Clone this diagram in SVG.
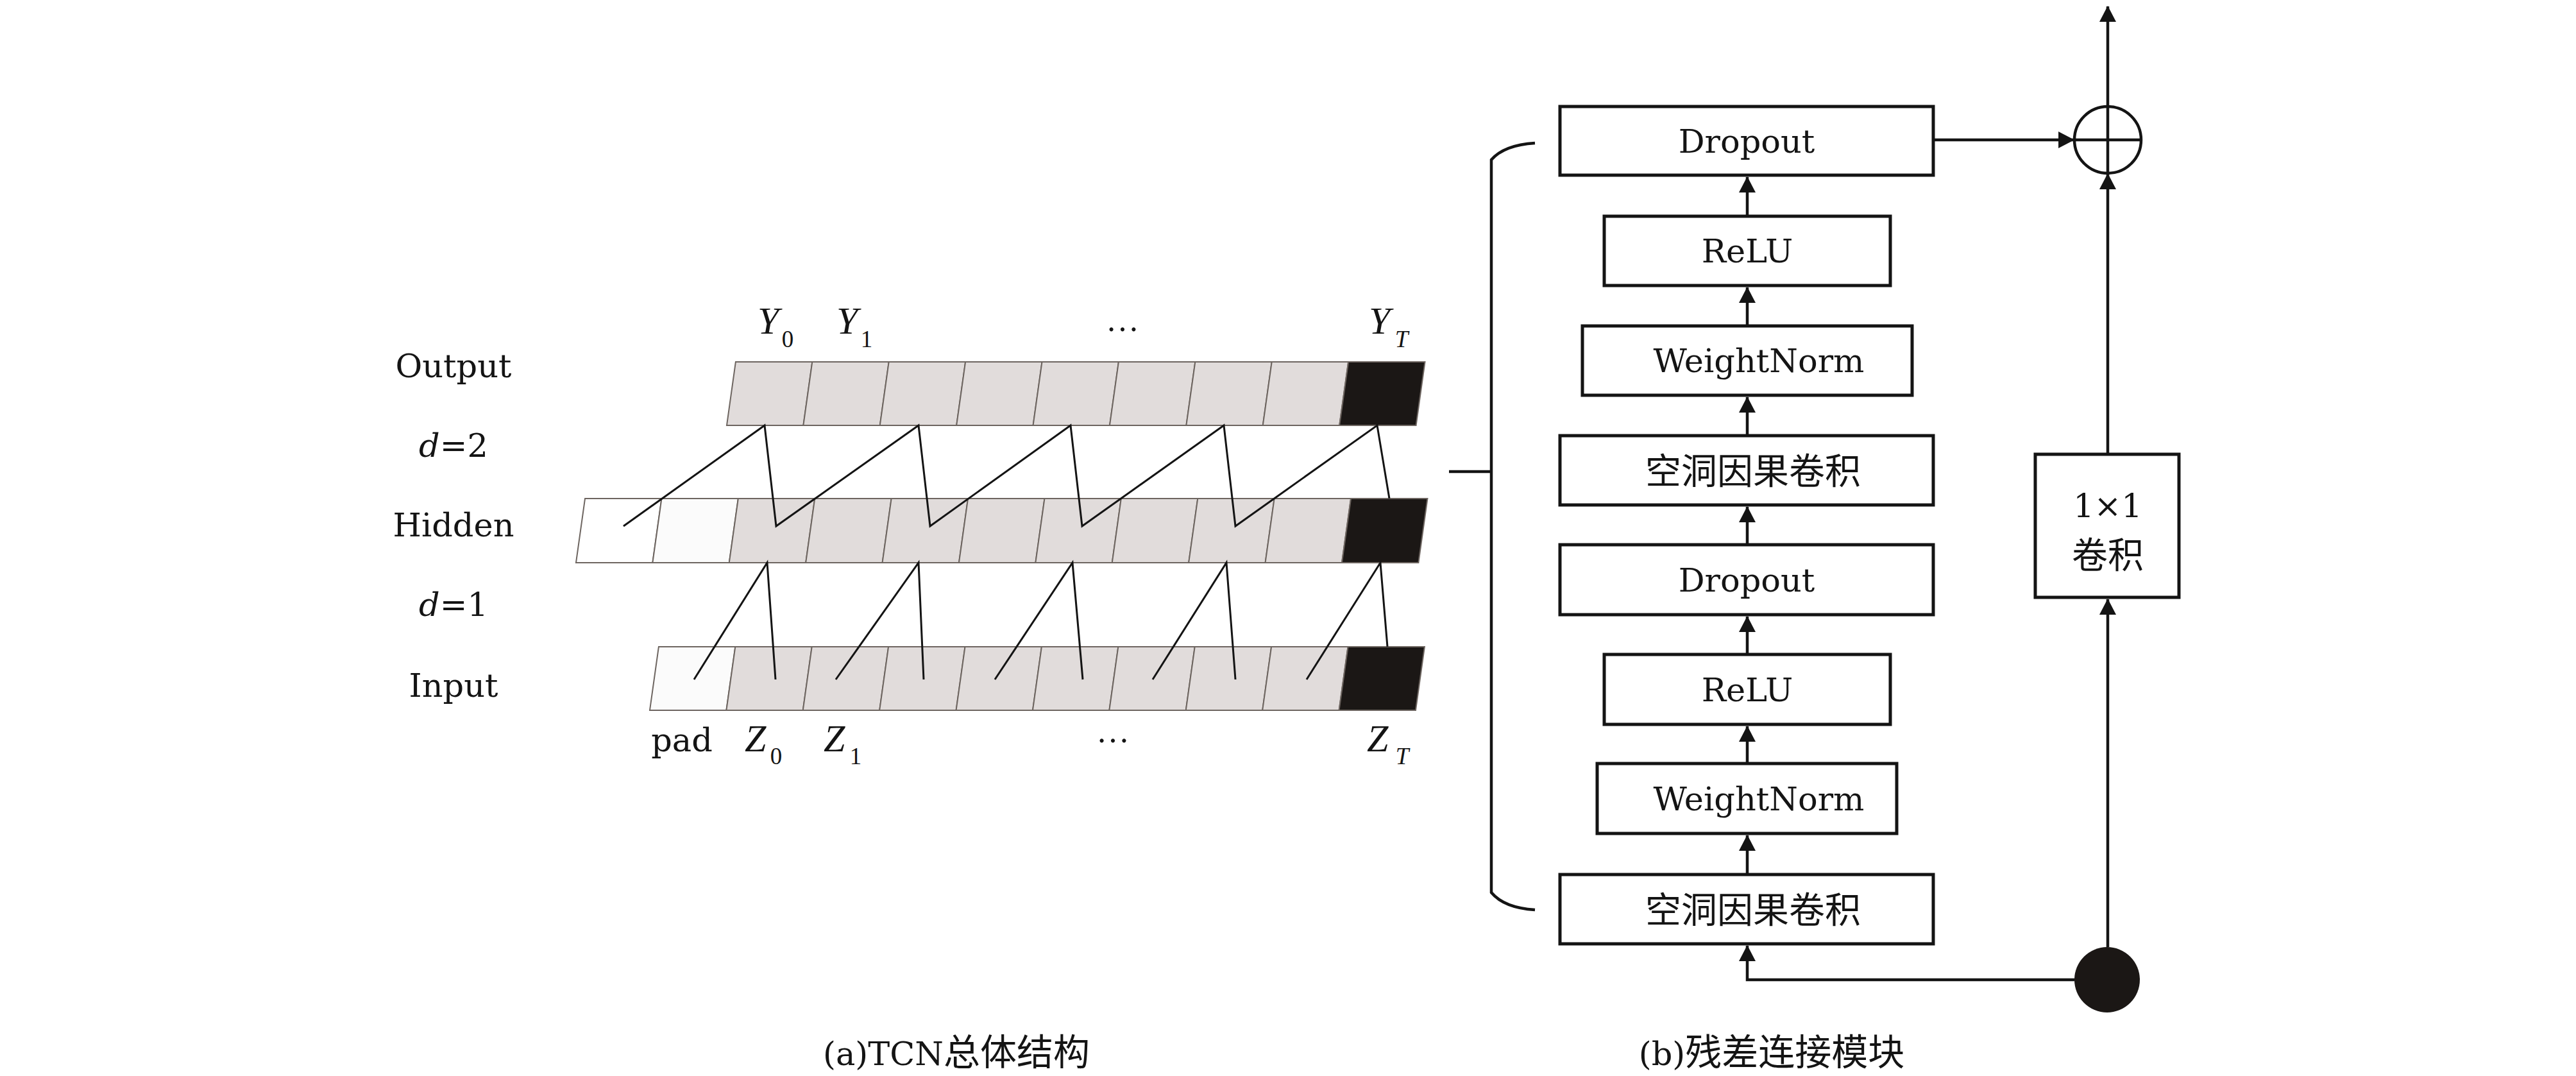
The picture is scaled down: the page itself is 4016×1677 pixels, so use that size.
<svg xmlns="http://www.w3.org/2000/svg" width="4016" height="1677" viewBox="0 0 4016 1677">
<defs>
<style>
.lbl{font-family:"DejaVu Serif","Liberation Serif",serif;font-size:51px;fill:#141414;text-anchor:middle}
.it{font-style:italic}
.var{font-family:"Liberation Serif",serif;font-style:italic;font-size:60px;fill:#141414}
.sub{font-family:"Liberation Serif",serif;font-size:37px;fill:#141414;text-anchor:middle}
.cjk{font-family:"Noto Sans CJK SC","Noto Sans CJK TC",sans-serif;font-size:56px;fill:#141414;text-anchor:middle}
.cell{stroke:#6d6560;stroke-width:2}
.g{fill:#e1dcdb}
.w{fill:#ffffff}
.w2{fill:#fbfbfb}
.k{fill:#1b1715}
.box{fill:#fff;stroke:#141414;stroke-width:5}
.ln{fill:none;stroke:#141414;stroke-width:3;stroke-linejoin:miter}
.ar{fill:none;stroke:#141414;stroke-width:4.5}
</style>
<marker id="ah" markerUnits="userSpaceOnUse" markerWidth="26" markerHeight="26" viewBox="0 0 24 25" refX="23" refY="12.5" orient="auto">
<path d="M0,0 L24,12.5 L0,25 Z" fill="#141414"/>
</marker>
</defs>
<rect x="0" y="0" width="4016" height="1677" fill="#fff"/>

<!-- (a) TCN -->
<g id="tcn-labels">
<text class="lbl" x="707" y="588">Output</text>
<text class="lbl" x="707" y="712"><tspan class="it">d</tspan>=2</text>
<text class="lbl" x="707" y="836">Hidden</text>
<text class="lbl" x="707" y="960"><tspan class="it">d</tspan>=1</text>
<text class="lbl" x="707" y="1086">Input</text>
</g>

<g id="row-output" transform="translate(1133,663) skewX(-8)">
<rect class="cell g" x="0" y="-99" width="119.4" height="99"/>
<rect class="cell g" x="119.4" y="-99" width="119.4" height="99"/>
<rect class="cell g" x="238.8" y="-99" width="119.4" height="99"/>
<rect class="cell g" x="358.2" y="-99" width="119.4" height="99"/>
<rect class="cell g" x="477.6" y="-99" width="119.4" height="99"/>
<rect class="cell g" x="597" y="-99" width="119.4" height="99"/>
<rect class="cell g" x="716.4" y="-99" width="119.4" height="99"/>
<rect class="cell g" x="835.8" y="-99" width="119.4" height="99"/>
<rect class="cell k" x="955.2" y="-99" width="119.4" height="99"/>
</g>

<g id="row-hidden" transform="translate(898,877) skewX(-8)">
<rect class="cell w" x="0" y="-100" width="119.4" height="100"/>
<rect class="cell w2" x="119.4" y="-100" width="119.4" height="100"/>
<rect class="cell g" x="238.8" y="-100" width="119.4" height="100"/>
<rect class="cell g" x="358.2" y="-100" width="119.4" height="100"/>
<rect class="cell g" x="477.6" y="-100" width="119.4" height="100"/>
<rect class="cell g" x="597" y="-100" width="119.4" height="100"/>
<rect class="cell g" x="716.4" y="-100" width="119.4" height="100"/>
<rect class="cell g" x="835.8" y="-100" width="119.4" height="100"/>
<rect class="cell g" x="955.2" y="-100" width="119.4" height="100"/>
<rect class="cell g" x="1074.6" y="-100" width="119.4" height="100"/>
<rect class="cell k" x="1194" y="-100" width="119.4" height="100"/>
</g>

<g id="row-input" transform="translate(1013,1107) skewX(-8)">
<rect class="cell w2" x="0" y="-99" width="119.4" height="99"/>
<rect class="cell g" x="119.4" y="-99" width="119.4" height="99"/>
<rect class="cell g" x="238.8" y="-99" width="119.4" height="99"/>
<rect class="cell g" x="358.2" y="-99" width="119.4" height="99"/>
<rect class="cell g" x="477.6" y="-99" width="119.4" height="99"/>
<rect class="cell g" x="597" y="-99" width="119.4" height="99"/>
<rect class="cell g" x="716.4" y="-99" width="119.4" height="99"/>
<rect class="cell g" x="835.8" y="-99" width="119.4" height="99"/>
<rect class="cell g" x="955.2" y="-99" width="119.4" height="99"/>
<rect class="cell k" x="1074.6" y="-99" width="119.4" height="99"/>
</g>

<g id="tcn-connectors">
<polyline class="ln" points="972,820 1192,663 1210,820 1432,663 1450,820 1669,663 1687,820 1908,663 1926,820 2147,663 2166,777"/>
<polyline class="ln" points="1082,1059 1196,877 1209,1059"/>
<polyline class="ln" points="1303,1059 1432,877 1440,1059"/>
<polyline class="ln" points="1551,1059 1672,877 1688,1059"/>
<polyline class="ln" points="1797,1059 1912,877 1926,1059"/>
<polyline class="ln" points="2037,1059 2152,877 2163,1008"/>
</g>

<g id="tcn-output-names">
<text class="var" x="1181" y="520">Y</text><text class="sub" x="1228" y="541">0</text>
<text class="var" x="1304" y="520">Y</text><text class="sub" x="1351" y="541">1</text>
<text class="lbl" x="1750" y="516" style="font-family:'Liberation Serif',serif;font-size:52px">…</text>
<text class="var" x="2134" y="520">Y</text><text class="sub" x="2185" y="541" font-style="italic">T</text>
</g>

<g id="tcn-input-names">
<text class="lbl" x="1063" y="1171">pad</text>
<text class="var" x="1161" y="1171">Z</text><text class="sub" x="1210" y="1191">0</text>
<text class="var" x="1284" y="1171">Z</text><text class="sub" x="1334" y="1191">1</text>
<text class="lbl" x="1735" y="1157" style="font-family:'Liberation Serif',serif;font-size:52px">…</text>
<text class="var" x="2131" y="1171">Z</text><text class="sub" x="2186" y="1191" font-style="italic">T</text>
</g>

<text id="caption-a" class="lbl" x="1491" y="1660">(a)TCN<tspan style="font-family:'Noto Sans CJK SC',sans-serif;font-size:57px">总体结构</tspan></text>

<!-- (b) residual block -->
<g id="bracket">
<path class="ar" d="M2393,223 Q2345,226 2325,249 V1391 Q2345,1415 2393,1418"/>
<line class="ar" x1="2259" y1="735" x2="2325" y2="735"/>
</g>

<g id="n-dropout1"><rect class="box" x="2432" y="166" width="582" height="107"/><text class="lbl" x="2723" y="238">Dropout</text></g>
<g id="n-relu1"><rect class="box" x="2501" y="337" width="446" height="108"/><text class="lbl" x="2724" y="409">ReLU</text></g>
<g id="n-weightnorm1"><rect class="box" x="2467" y="508" width="514" height="108"/><text class="lbl" x="2742" y="580">WeightNorm</text></g>
<g id="n-conv1"><rect class="box" x="2432" y="679" width="582" height="108"/><text class="cjk" x="2733" y="754">空洞因果卷积</text></g>
<g id="n-dropout2"><rect class="box" x="2432" y="849" width="582" height="109"/><text class="lbl" x="2723" y="922">Dropout</text></g>
<g id="n-relu2"><rect class="box" x="2501" y="1020" width="446" height="109"/><text class="lbl" x="2724" y="1093">ReLU</text></g>
<g id="n-weightnorm2"><rect class="box" x="2490" y="1190" width="467" height="109"/><text class="lbl" x="2742" y="1263">WeightNorm</text></g>
<g id="n-conv2"><rect class="box" x="2432" y="1363" width="582" height="108"/><text class="cjk" x="2733" y="1438">空洞因果卷积</text></g>

<g id="n-conv1x1"><rect class="box" x="3173" y="708" width="224" height="223"/>
<text class="lbl" x="3286" y="806">1×1</text>
<text class="cjk" x="3286" y="885">卷积</text></g>

<g id="n-add">
<circle cx="3286" cy="218" r="52" fill="none" stroke="#141414" stroke-width="4.5"/>
<line class="ar" x1="3234" y1="218" x2="3338" y2="218"/>
</g>
<g id="n-split"><circle cx="3285" cy="1527" r="51" fill="#1b1715"/></g>

<g id="connectors">
<path class="ar" d="M3234,1527 H2724 V1474" marker-end="url(#ah)"/>
<line class="ar" x1="2724" y1="1363" x2="2724" y2="1302" marker-end="url(#ah)"/>
<line class="ar" x1="2724" y1="1190" x2="2724" y2="1132" marker-end="url(#ah)"/>
<line class="ar" x1="2724" y1="1020" x2="2724" y2="961" marker-end="url(#ah)"/>
<line class="ar" x1="2724" y1="849" x2="2724" y2="790" marker-end="url(#ah)"/>
<line class="ar" x1="2724" y1="679" x2="2724" y2="619" marker-end="url(#ah)"/>
<line class="ar" x1="2724" y1="508" x2="2724" y2="448" marker-end="url(#ah)"/>
<line class="ar" x1="2724" y1="337" x2="2724" y2="276" marker-end="url(#ah)"/>
<line class="ar" x1="3014" y1="218" x2="3233" y2="218" marker-end="url(#ah)"/>
<line class="ar" x1="3286" y1="1476" x2="3286" y2="934" marker-end="url(#ah)"/>
<line class="ar" x1="3286" y1="708" x2="3286" y2="271" marker-end="url(#ah)"/>
<line class="ar" x1="3286" y1="270" x2="3286" y2="10" marker-end="url(#ah)"/>
</g>

<text id="caption-b" class="lbl" x="2762" y="1660">(b)<tspan style="font-family:'Noto Sans CJK SC',sans-serif;font-size:57px">残差连接模块</tspan></text>
</svg>
